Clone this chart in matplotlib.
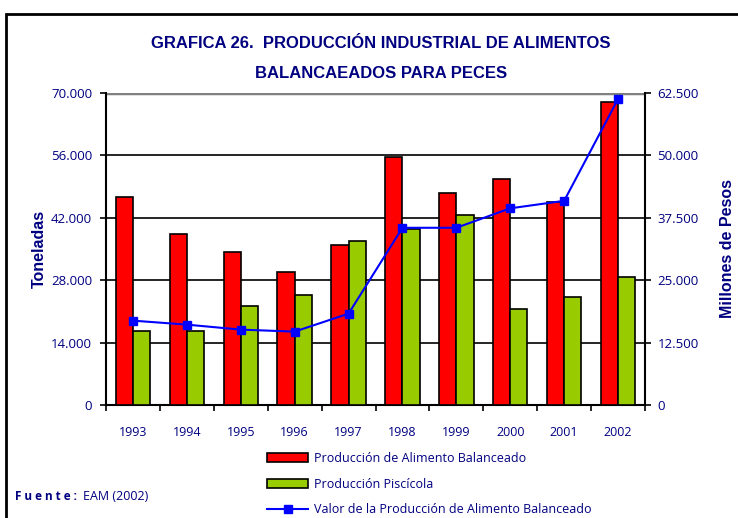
import numpy as np
import matplotlib
matplotlib.use("Agg")
import matplotlib.pyplot as plt
from matplotlib.patches import Rectangle

# data
years = ['1993', '1994', '1995', '1996', '1997', '1998', '1999', '2000', '2001', '2002']
alimento = [46700, 38300, 34300, 29900, 36000, 55600, 47500, 50700, 45600, 68000]   # toneladas
piscicola = [16700, 16700, 22300, 24700, 36700, 39500, 42700, 21500, 24300, 28700]  # toneladas
valor = [16900, 16100, 15100, 14700, 18300, 35500, 35500, 39400, 40900, 61300]      # millones de pesos

left_ticks = [0, 14000, 28000, 42000, 56000, 70000]
right_ticks = [0, 12500, 25000, 37500, 50000, 62500]

navy = '#000080'
narrow = ['Liberation Sans Narrow', 'Liberation Sans', 'DejaVu Sans']
tickfont = ['Open Sans', 'DejaVu Sans']

def fmt(v):
    return f"{v:,}".replace(',', '.')

fig = plt.figure(figsize=(7.38, 5.18), dpi=100)
fig.patch.set_facecolor('white')

# frame round the whole chart
fig.patches.append(Rectangle((6/738, -0.1), 1.2, (518-14)/518 + 0.1, transform=fig.transFigure,
                             fill=False, edgecolor='black', linewidth=2, zorder=0))

ax = fig.add_axes([106/738, (518-405)/518, (645-106)/738, (405-93)/518])
x = np.arange(len(years))
w = 0.32
ax.bar(x - w/2, alimento, width=w, color='#FF0000', edgecolor='black', linewidth=1.2,
       label='Producción de Alimento Balanceado', zorder=3)
ax.bar(x + w/2, piscicola, width=w, color='#99CC00', edgecolor='black', linewidth=1.2,
       label='Producción Piscícola', zorder=3)

ax.set_xlim(-0.5, len(years) - 0.5)
ax.set_ylim(0, 70000)
ax.set_yticks(left_ticks)
ax.set_yticklabels([fmt(v) for v in left_ticks], family=tickfont, fontsize=9.5, color=navy)
for t in left_ticks[1:-1]:
    ax.axhline(t, color='black', linewidth=1.2, zorder=1)
ax.axhline(70000, color='#808080', linewidth=2.5, zorder=1)

ax.set_xticks(x)
ax.set_xticklabels(years, family=tickfont, fontsize=9, color=navy)
ax.set_xticks(np.arange(-0.5, len(years)), minor=True)
ax.tick_params(axis='x', which='major', length=0, pad=15)
ax.tick_params(axis='x', which='minor', length=4, width=1.2, direction='out')
ax.tick_params(axis='y', length=4, width=1.2, direction='out', pad=6)

for s in ['top', 'right']:
    ax.spines[s].set_visible(False)
ax.spines['left'].set_linewidth(1.5)
ax.spines['bottom'].set_linewidth(1.5)

ax.set_ylabel('Toneladas', family=narrow, fontsize=11.5, fontweight='bold', color=navy, labelpad=3)

ax2 = ax.twinx()
ax2.plot(x, valor, color='#0000FF', linewidth=1.5, marker='s', markersize=6,
         label='Valor de la Producción de Alimento Balanceado', zorder=4)
ax2.set_ylim(0, 62500)
ax2.set_yticks(right_ticks)
ax2.set_yticklabels([fmt(v) for v in right_ticks], family=tickfont, fontsize=9.5, color=navy)
ax2.tick_params(axis='y', length=4, width=1.2, direction='out', pad=5)
for s in ['top', 'left', 'bottom']:
    ax2.spines[s].set_visible(False)
ax2.spines['right'].set_linewidth(1.5)
ax2.set_ylabel('Millones de Pesos', family=narrow, fontsize=11.5, fontweight='bold', color=navy,
               labelpad=15)

fig.text(381/738, (518-44)/518, 'GRAFICA 26.  PRODUCCIÓN INDUSTRIAL DE ALIMENTOS',
         ha='center', va='center', family=narrow, fontsize=12, fontweight='bold', color=navy)
fig.text(381/738, (518-73)/518, 'BALANCAEADOS PARA PECES',
         ha='center', va='center', family=narrow, fontsize=12, fontweight='bold', color=navy)

h1, l1 = ax.get_legend_handles_labels()
h2, l2 = ax2.get_legend_handles_labels()
leg = fig.legend(h1 + h2, l1 + l2, loc='upper left', bbox_to_anchor=(267/738, (518-452)/518),
                 frameon=False, prop={'family': tickfont, 'size': 9}, handlelength=3.3,
                 handletextpad=0.45, labelspacing=1.0, borderpad=0, borderaxespad=0)
for t in leg.get_texts():
    t.set_color(navy)

fig.text(15/738, (518-497)/518, 'F u e n t e :', ha='left', va='center', family=tickfont,
         fontsize=8.5, fontweight='bold', color=navy)
fig.text(83/738, (518-497)/518, 'EAM (2002)', ha='left', va='center', family=tickfont,
         fontsize=9, color=navy)

fig.savefig('out.png', dpi=100)
